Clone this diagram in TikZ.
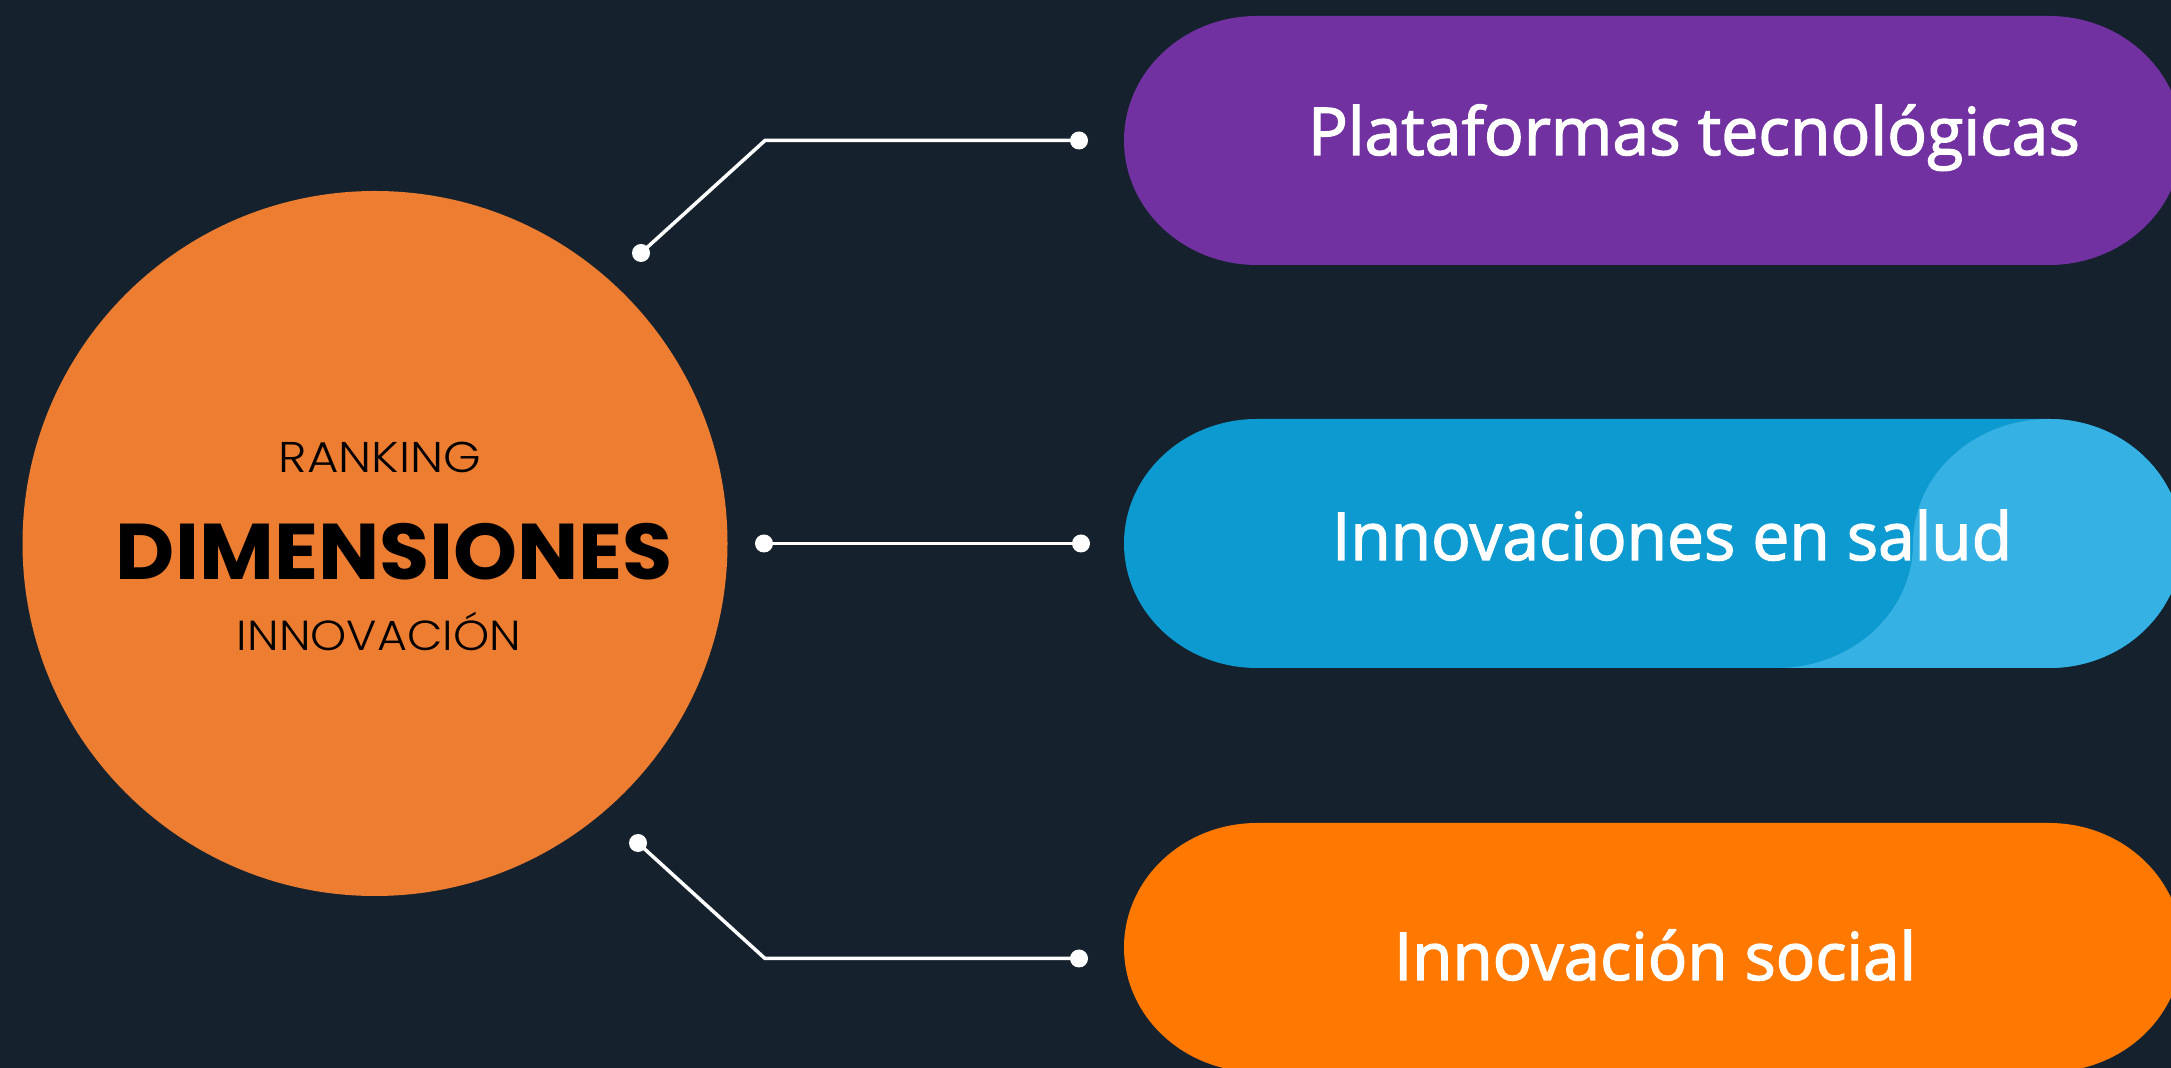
\documentclass[tikz,border=0pt]{standalone}
\usepackage{fontspec}
\usepackage{graphicx}
\setmainfont{Open Sans}
\newfontfamily\osb{Open Sans}[FakeBold=2]
\newfontfamily\popl{Poppins Light}
\newfontfamily\popb{Poppins Bold}
\definecolor{bg}{HTML}{15222E}
\definecolor{circ}{HTML}{ED7D31}
\definecolor{purp}{HTML}{7131A0}
\definecolor{dblue}{HTML}{0D9AD0}
\definecolor{lblue}{HTML}{36B1E3}
\definecolor{opill}{HTML}{FF7800}
\begin{document}
\begin{tikzpicture}[x=1pt,y=1pt,
  dotnode/.style={circle,fill=white,inner sep=0pt,minimum size=18pt},
  conn/.style={draw=white,line width=3.5pt,line join=miter},
  pilltext/.style={text=white,inner sep=0pt,anchor=base},
  circtext/.style={text=black,inner sep=0pt,anchor=base}]
\useasboundingbox (0,0) rectangle (2171,1068);
\fill[bg] (0,0) rectangle (2171,1068);
% central circle
\node[circle,fill=circ,minimum size=705pt,inner sep=0pt] (main) at (375,524.5) {};
% pills
\begin{scope}
\clip (0,0) rectangle (2171,1068);
\fill[purp] (1257,1052) -- (2049,1052) arc[start angle=90,end angle=-90,x radius=133,y radius=124.5]
  -- (1257,803) arc[start angle=270,end angle=90,x radius=133,y radius=124.5] -- cycle;
\fill[dblue] (1257,649) -- (2049,649) arc[start angle=90,end angle=-90,x radius=133,y radius=124.5]
  -- (1257,400) arc[start angle=270,end angle=90,x radius=133,y radius=124.5] -- cycle;
\fill[lblue] (2049,649) arc[start angle=90,end angle=180,x radius=136,y radius=124.5]
  arc[start angle=0,end angle=-90,x radius=136,y radius=124.5]
  -- (2049,400) arc[start angle=-90,end angle=90,x radius=133,y radius=124.5] -- cycle;
\fill[opill] (1257,245) -- (2049,245) arc[start angle=90,end angle=-90,x radius=133,y radius=124.5]
  -- (1257,-4) arc[start angle=270,end angle=90,x radius=133,y radius=124.5] -- cycle;
\end{scope}
% pill labels
\node[pilltext] (p1) at (1694,913) {\resizebox{772pt}{\height}{\osb\fontsize{66}{70}\selectfont Plataformas tecnológicas}};
\node[pilltext] (p2) at (1672,508) {\resizebox{680pt}{\height}{\osb\fontsize{66}{70}\selectfont Innovaciones en salud}};
\node[pilltext] (p3) at (1655,88) {\resizebox{522pt}{\height}{\osb\fontsize{66}{70}\selectfont Innovación social}};
% circle labels
\node[circtext] (t1) at (380,595) {\resizebox{202pt}{\height}{\popl\fontsize{43}{46}\selectfont RANKING}};
\node[circtext] (t2) at (394.5,488) {\resizebox{557pt}{\height}{\popb\fontsize{79}{84}\selectfont DIMENSIONES}};
\node[circtext] (t3) at (379,417) {\resizebox{284pt}{\height}{\popl\fontsize{42}{46}\selectfont INNOVACIÓN}};
% connectors
\node[dotnode] (a1) at (641,815) {};
\coordinate (a2) at (765,927.5);
\node[dotnode] (a3) at (1079,927.5) {};
\node[dotnode] (b1) at (764,524.5) {};
\node[dotnode] (b2) at (1081,524.5) {};
\node[dotnode] (c1) at (638,225) {};
\coordinate (c2) at (765,109.5);
\node[dotnode] (c3) at (1079,109.5) {};
\draw[conn] (a1.center) -- (a2) -- (a3.center);
\draw[conn] (b1.center) -- (b2.center);
\draw[conn] (c1.center) -- (c2) -- (c3.center);
\end{tikzpicture}
\end{document}
